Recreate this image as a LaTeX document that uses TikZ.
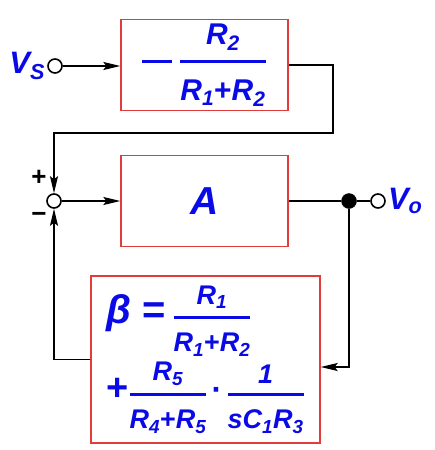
\documentclass[tikz,border=0pt]{standalone}
\usepackage{amsmath}
\usepackage{fontspec}
\setmainfont{Liberation Sans}
\usetikzlibrary{arrows.meta,positioning}
\definecolor{txtblue}{RGB}{10,10,230}
\definecolor{boxred}{RGB}{225,60,60}
\newcommand{\mv}[1]{\text{\bfseries\itshape #1}}
\newcommand{\pl}{{\text{\bfseries +}}}
\newcommand{\bfr}[3][2.5pt]{\genfrac{}{}{#1}{0}{#2}{\rule{0pt}{0.95em}#3}}

\begin{document}
\begin{tikzpicture}[x=1pt, y=-1pt,
  blk/.style={draw=boxred, line width=1.3pt, minimum width=167pt, minimum height=91pt, text=txtblue, inner sep=0pt},
  port/.style={draw, circle, line width=1.6pt, fill=white, minimum size=14pt, inner sep=0pt},
  wire/.style={line width=1.6pt},
  arr/.style={wire, -{Stealth[length=17pt,width=8pt,inset=3pt]}},
  lbl/.style={text=txtblue, font=\fontsize{31}{33}\selectfont, inner sep=0pt},
  sgn/.style={font=\fontsize{26}{28}\selectfont\bfseries, inner sep=0pt},
]
\useasboundingbox (0,0) rectangle (435,450);
% blocks
\node[blk, font=\fontsize{30}{32}\selectfont] (gain) at (204.5,65)
  {$\vcenter{\hbox{\rule{30pt}{3pt}}}\;\bfr[3pt]{\mv{R}_{\mv{2}}}{\mv{R}_{\mv{1}}\pl\mv{R}_{\mv{2}}}$};
\node[blk, font=\fontsize{39}{41}\selectfont\bfseries\itshape] (amp) at (204.5,201) {A};
\node[blk, minimum width=229pt, minimum height=167pt, align=left, font=\fontsize{27}{29}\selectfont] (fb) at (205.5,359.5)
  {$\text{\fontsize{40}{42}\selectfont\bfseries\itshape β\;\upshape =}\;\bfr{\mv{R}_{\mv{1}}}{\mv{R}_{\mv{1}}\pl\mv{R}_{\mv{2}}}$\\[5pt]
   $\text{\fontsize{38}{40}\selectfont\bfseries +}\bfr{\mv{R}_{\mv{5}}}{\mv{R}_{\mv{4}}\pl\mv{R}_{\mv{5}}}\,\text{\fontsize{32}{34}\selectfont\bfseries ·}\,\bfr{\mv{1}}{\mv{s}\mv{C}_{\mv{1}}\mv{R}_{\mv{3}}}$};
% ports and junctions
\node[port] (vs) at (55,66) {};
\node[port] (sum) at (54,201) {};
\node[draw, circle, fill, minimum size=15pt, inner sep=0pt] (dot) at (349,201) {};
\node[port] (vo) at (378,201) {};
\node[lbl, left=2pt of vs] (vslbl) {$\mv{V}_{\mv{S}}$};
\node[lbl, right=2pt of vo] (volbl) {$\mv{V}_{\mv{o}}$};
\node[sgn] (plus) at (39,178) {+};
\node[sgn] (minus) at (39,217) {−};
\coordinate (turn) at (333,133);
% connectors
\draw[arr] (vs) -- (vs -| gain.west);
\draw[arr] (gain.east) -| (turn) -| (sum);
\draw[arr] (sum) -- (amp);
\draw[wire] (amp) -- (dot) -- (vo);
\draw[arr] (dot) |- ([yshift=-7.5pt]fb.east);
\draw[arr] (fb.west) -| (sum);
\end{tikzpicture}
\end{document}
